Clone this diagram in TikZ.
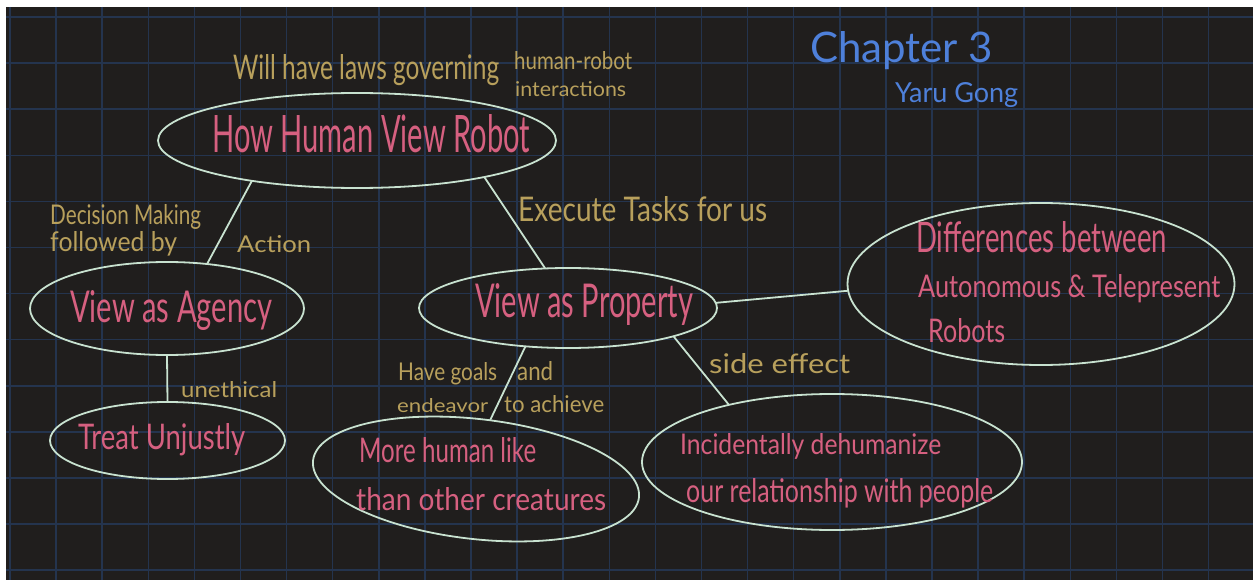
\documentclass[tikz,border=0pt]{standalone}
\usepackage{graphicx}
\usepackage{fontspec}
\setmainfont{Lato}
\usetikzlibrary{shapes.geometric}

\definecolor{board}{RGB}{32,30,29}
\definecolor{gridblue}{RGB}{36,52,78}
\definecolor{rim}{RGB}{200,226,208}
\definecolor{rose}{RGB}{214,96,128}
\definecolor{ochre}{RGB}{184,160,92}
\definecolor{ink}{RGB}{78,128,218}

% text squeezed into a box of given width and height (in pt)
\newcommand{\scribble}[3]{\resizebox{#1pt}{#2pt}{#3}}

\tikzset{
  bubble/.style={draw=rim, line width=1.8pt, ellipse, inner sep=0pt, outer sep=0pt},
  link/.style={draw=rim, line width=1.8pt},
  topic/.style={text=rose, inner sep=0pt, anchor=base west},
  note/.style={text=ochre, inner sep=0pt, anchor=base west},
  sign/.style={text=ink, inner sep=0pt, anchor=base west},
  gridline/.style={draw=gridblue, line width=1.5pt}
}

\begin{document}
\begin{tikzpicture}[x=1pt,y=-1pt]
\useasboundingbox (0,0) rectangle (1253,580);
\fill[white] (0,0) rectangle (1253,580);
\fill[board] (6,7) rectangle (1253,580);

% squared paper
\begin{scope}
  \clip (6,7) rectangle (1253,580);
  \foreach \k in {0,...,26} \draw[gridline] ({10+46.1*\k},7) -- ({10+46.1*\k},580);
  \foreach \k in {0,...,12} \draw[gridline] (6,{17+46.1*\k}) -- (1253,{17+46.1*\k});
\end{scope}

% bubbles
\node[bubble, minimum width=398pt, minimum height=95pt] (hhvr) at (357,140.5) {};
\node[bubble, minimum width=274pt, minimum height=93pt] (agency) at (167,308.5) {};
\node[bubble, minimum width=235pt, minimum height=77pt] (treat) at (167.5,440.5) {};
\node[bubble, minimum width=298pt, minimum height=80pt] (vap) at (568,308) {};
\node[bubble, minimum width=387pt, minimum height=162pt] (diff) at (1041,284) {};
\node[bubble, minimum width=328pt, minimum height=120pt, rotate=-6.5] (more) at (476,479) {};
\node[bubble, minimum width=380pt, minimum height=136pt] (incid) at (832,462) {};

% connectors
\draw[link] (hhvr.201) -- (agency.48);
\draw[link] (hhvr.344) -- (vap.120);
\draw[link] (agency.south) -- (treat.north);
\draw[link] (vap.2) -- (diff.182);
\draw[link] (vap.222) -- (more.83);
\draw[link] (vap.345) -- (incid.151);

% bubble texts
\node[topic] (thhvr) at (212,153) {\scribble{318}{38}{How Human View Robot}};
\node[topic] (tagency) at (70,322) {\scribble{202}{32}{View as Agency}};
\node[topic] (ttreat) at (78,449) {\scribble{167}{26}{Treat Unjustly}};
\node[topic] (tvap) at (475,317) {\scribble{218}{34}{View as Property}};
\node[topic] (tdiffa) at (916,253) {\scribble{251}{31}{Differences between}};
\node[topic] (tdiffb) at (918,298) {\scribble{302}{23}{Autonomous \& Telepresent}};
\node[topic] (tdiffc) at (928,342) {\scribble{77}{24}{Robots}};
\node[topic] (tmorea) at (359,462) {\scribble{177}{25}{More human like}};
\node[topic] (tmoreb) at (356,510) {\scribble{250}{23}{than other creatures}};
\node[topic] (tincida) at (680,454) {\scribble{261}{21}{Incidentally dehumanize}};
\node[topic] (tincidb) at (686,502) {\scribble{307}{24}{our relationship with people}};

% connector notes
\node[note] (nlawsa) at (233,80) {\scribble{266}{25}{Will have laws governing}};
\node[note] (nlawsb) at (514,70) {\scribble{118}{18}{human-robot}};
\node[note] (nlawsc) at (515,97) {\scribble{111}{15}{interactions}};
\node[note] (ndeca) at (50,225) {\scribble{151}{20}{Decision Making}};
\node[note] (ndecb) at (50,252) {\scribble{127}{20}{followed by}};
\node[note] (nact) at (237,253) {\scribble{74}{17}{Action}};
\node[note] (nexec) at (518,222) {\scribble{249}{25}{Execute Tasks for us}};
\node[note] (nuneth) at (181,397) {\scribble{96}{16}{unethical}};
\node[note] (ngoala) at (398,380) {\scribble{99}{18}{Have goals}};
\node[note] (ngoalb) at (517,380) {\scribble{36}{19}{and}};
\node[note] (ngoalc) at (397,412) {\scribble{91}{14}{endeavor}};
\node[note] (ngoald) at (504,412) {\scribble{100}{17}{to achieve}};
\node[note] (nside) at (709,373) {\scribble{141}{20}{side effect}};

% heading
\node[sign] (chap) at (810,63) {\scribble{183}{31}{Chapter 3}};
\node[sign] (auth) at (895,103) {\scribble{123}{20}{Yaru Gong}};
\end{tikzpicture}
\end{document}
